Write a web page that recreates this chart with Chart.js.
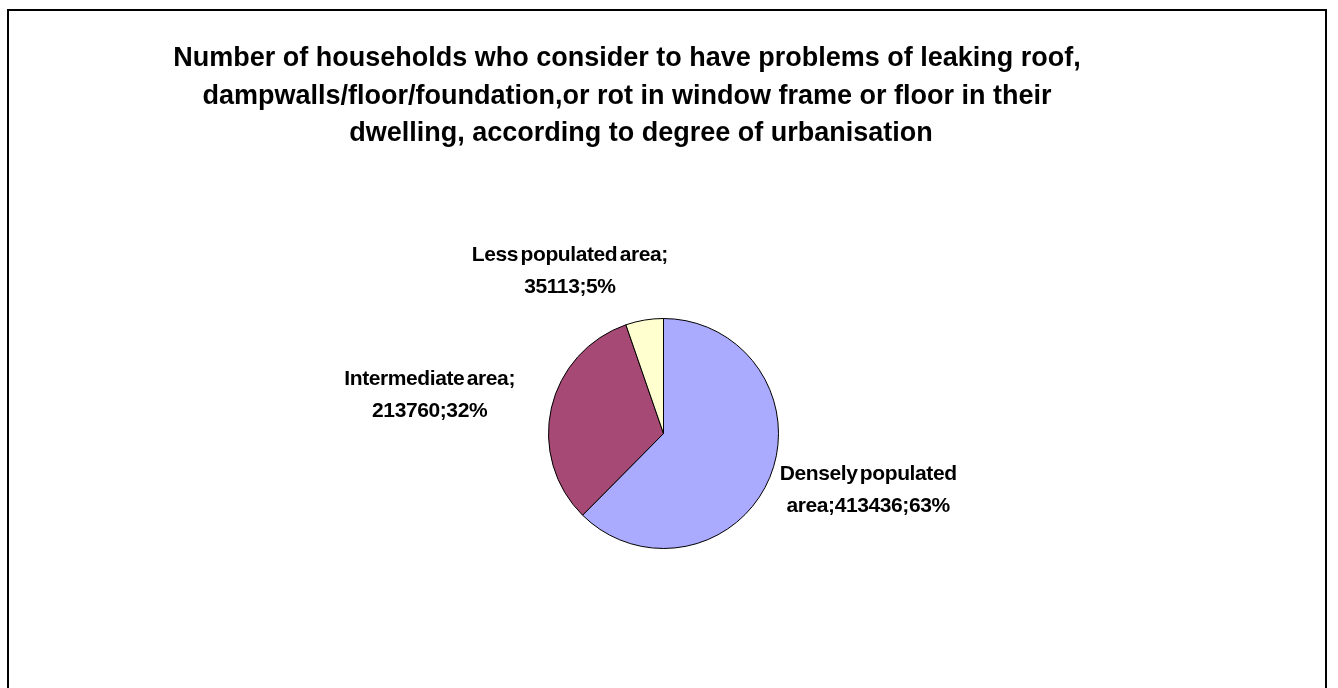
<!DOCTYPE html>
<html>
<head>
<meta charset="utf-8">
<script src="https://cdn.jsdelivr.net/npm/chart.js@4.4.1/dist/chart.umd.min.js"></script>
<style>
  html, body { margin: 0; padding: 0; background: #fff; overflow: hidden; }
  #frame {
    position: absolute; left: 7px; top: 9px;
    width: 1316px; height: 720px;
    border: 2px solid #000;
  }
  #pie { position: absolute; left: 0; top: 0; }
</style>
</head>
<body>
<div id="frame"></div>
<canvas id="pie" width="1338" height="688"></canvas>
<script>
// data
const categories = ['Densely populated area', 'Intermediate area', 'Less populated area'];
const households = [413436, 213760, 35113];
const percents = ['63%', '32%', '5%'];
// label text as it wraps in the original
const labelLines = [
  ['Densely populated', 'area;413436;63%'],
  ['Intermediate area;', '213760;32%'],
  ['Less populated area;', '35113;5%']
];
const titleLines = [
  'Number of households who consider to have problems of leaking roof,',
  'dampwalls/floor/foundation,or rot in window frame or floor in their',
  'dwelling, according to degree of urbanisation'
];

const sliceColors = ['#aaaaff', '#a64a75', '#ffffd0'];

// title drawn centred a bit left of the pie, like the original
const titlePlugin = {
  id: 'oldTitle',
  afterDraw(chart) {
    const ctx = chart.ctx;
    const centres = [627, 627, 641];
    ctx.save();
    ctx.fillStyle = '#000';
    ctx.font = 'bold 27px "Liberation Sans", Arial, sans-serif';
    ctx.textAlign = 'center';
    ctx.textBaseline = 'alphabetic';
    titleLines.forEach((t, i) => ctx.fillText(t, centres[i], 66 + i * 37.5));
    ctx.restore();
  }
};

// outside-end labels, placed from each arc's mid angle
const labelPlugin = {
  id: 'sliceLabels',
  afterDatasetsDraw(chart) {
    const ctx = chart.ctx;
    const arcs = chart.getDatasetMeta(0).data;
    const nudge = [[-2, -8], [-19, -3], [-55, 1]];
    const lineH = 32, size = 21;
    ctx.save();
    ctx.fillStyle = '#000';
    ctx.font = 'bold ' + size + 'px "Liberation Sans", Arial, sans-serif';
    if ('letterSpacing' in ctx) ctx.letterSpacing = '-0.4px';
    if ('wordSpacing' in ctx) ctx.wordSpacing = '-3px';
    ctx.textAlign = 'center';
    ctx.textBaseline = 'alphabetic';
    arcs.forEach((arc, i) => {
      const p = arc.getProps(['x', 'y', 'startAngle', 'endAngle', 'outerRadius'], true);
      const mid = (p.startAngle + p.endAngle) / 2;
      const dx = Math.cos(mid), dy = Math.sin(mid);
      const ax = p.x + dx * (p.outerRadius + 20);
      const ay = p.y + dy * (p.outerRadius + 20);
      const lines = labelLines[i];
      const w = Math.max(...lines.map(l => ctx.measureText(l).width));
      const h = lines.length * lineH;
      const cx = ax + dx * w / 2 + nudge[i][0];
      const cy = ay + dy * h / 2 + nudge[i][1];
      lines.forEach((l, j) => {
        ctx.fillText(l, cx, cy + (j - (lines.length - 1) / 2) * lineH + size * 0.35);
      });
    });
    ctx.restore();
  }
};

new Chart(document.getElementById('pie'), {
  type: 'pie',
  data: {
    labels: categories,
    datasets: [{
      data: households,
      backgroundColor: sliceColors,
      borderColor: '#000',
      borderWidth: 1,
      radius: 115
    }]
  },
  options: {
    responsive: false,
    animation: false,
    layout: { padding: { left: 0, right: 11, top: 200, bottom: 21 } },
    plugins: {
      legend: { display: false },
      title: { display: false },
      tooltip: { enabled: false }
    }
  },
  plugins: [titlePlugin, labelPlugin]
});
</script>
</body>
</html>
